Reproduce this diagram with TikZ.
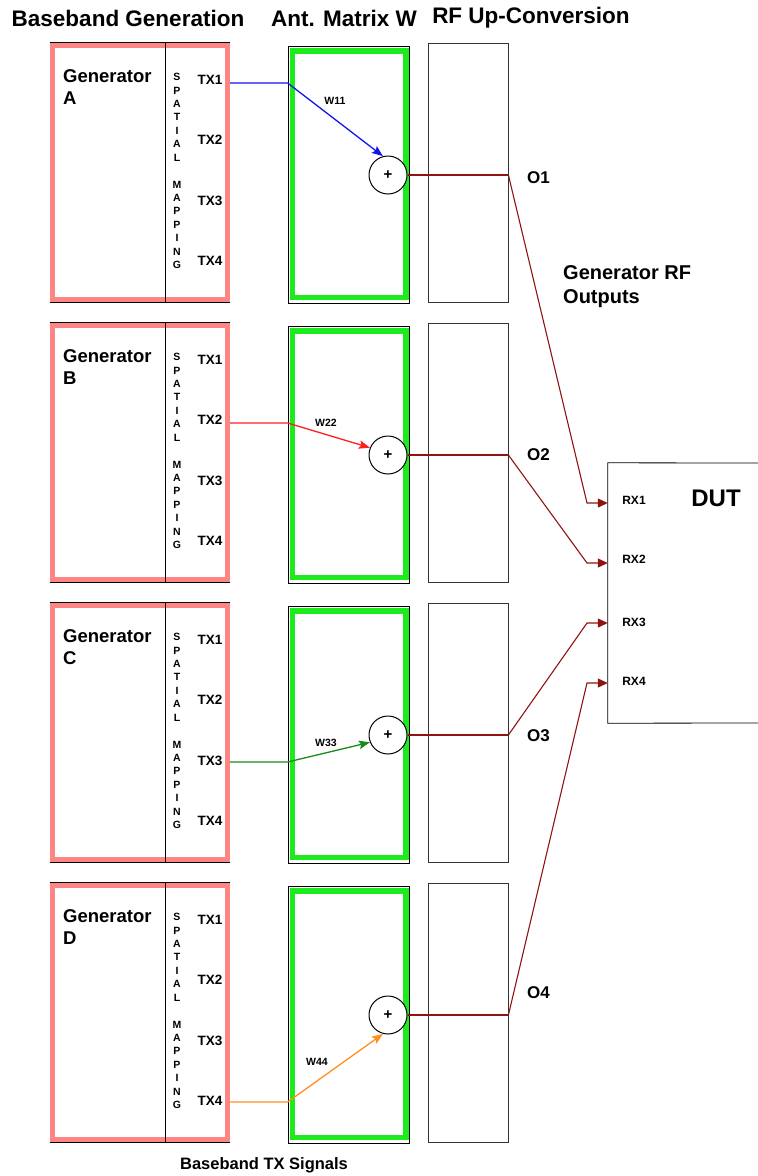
\documentclass[tikz,border=0pt]{standalone}
\usepackage{fontspec}
\setmainfont{Liberation Sans}
\usetikzlibrary{arrows.meta}
\definecolor{pinkred}{HTML}{FF8585}
\definecolor{brightgreen}{HTML}{1EEB1E}
\definecolor{maroonline}{HTML}{8E1414}
\definecolor{wblue}{HTML}{1414F0}
\definecolor{wred}{HTML}{FF2020}
\definecolor{wgreen}{HTML}{1A8A1A}
\definecolor{worange}{HTML}{FF9020}
\begin{document}
\begin{tikzpicture}[x=1pt,y=-1pt,
  hdr/.style={font=\fontsize{22.5}{27}\selectfont\bfseries, inner sep=0},
  gentxt/.style={font=\fontsize{18.5}{22.5}\selectfont\bfseries, align=left, anchor=north west, inner sep=0},
  txlab/.style={font=\fontsize{13.5}{16}\selectfont\bfseries, inner sep=0, anchor=base},
  spat/.style={font=\fontsize{10.5}{13.43}\selectfont\bfseries, align=center, inner sep=0},
  wlab/.style={font=\fontsize{10.5}{12}\selectfont\bfseries, inner sep=0},
  olab/.style={font=\fontsize{17}{20}\selectfont\bfseries, inner sep=0, anchor=west},
  rxlab/.style={font=\fontsize{12}{14}\selectfont\bfseries, inner sep=0},
  sumnode/.style={circle, draw, line width=1pt, minimum size=38pt, inner sep=0, fill=white, font=\fontsize{15}{16}\selectfont\bfseries},
  genbox/.style={minimum width=180pt, minimum height=259pt, inner sep=0},
  matbox/.style={draw, line width=0.8pt, minimum width=121pt, minimum height=257pt, inner sep=0},
  rfbox/.style={draw, line width=0.8pt, draw=black!80, minimum width=80pt, minimum height=259pt, inner sep=0},
  wline/.style={line width=1.3pt, -{Stealth[length=11pt,width=8.5pt,inset=2pt]}},
  rfline/.style={maroonline, line width=1.1pt},
  rxarrow/.style={maroonline, line width=1.1pt, -{Triangle[length=10pt,width=9pt]}}
]
\useasboundingbox (0,0) rectangle (758,1176);

% headers
\node[hdr] (h1) at (128,18) {Baseband Generation};
\node[hdr] (h2) at (344,18) {Ant. Matrix W};
\node[hdr] (h3) at (531,18) {RF Up-Conversion};

\foreach \n/\k in {A/0,B/1,C/2,D/3}{
  \pgfmathsetmacro{\dy}{280*\k}
  % generator block
  \node[genbox] (g\n) at (140,172.5+\dy) {};
  \draw[pinkred, line width=5pt] ([xshift=2.5pt,yshift=-2.5pt]g\n.north west) rectangle ([xshift=-2.5pt,yshift=2.5pt]g\n.south east);
  \draw[line width=0.8pt] (g\n.north west) -- (g\n.north east) (g\n.south west) -- (g\n.south east);
  \draw[line width=0.8pt] ([xshift=116pt]g\n.north west) -- ([xshift=116pt]g\n.south west);
  \node[gentxt] (gt\n) at (63,69+\dy) {Generator\\\n};
  \node[spat] (sp\n) at (177,171+\dy) {S\\P\\A\\T\\I\\A\\L\\\mbox{}\\M\\A\\P\\P\\I\\N\\G};
  \node[txlab] (tx\n1) at (210,84.5+\dy) {TX1};
  \node[txlab] (tx\n2) at (210,144.5+\dy) {TX2};
  \node[txlab] (tx\n3) at (210,205+\dy) {TX3};
  \node[txlab] (tx\n4) at (210,265+\dy) {TX4};
  % antenna matrix
  \node[matbox] (m\n) at (348.5,174.5+\dy) {};
  \draw[brightgreen, line width=5.5pt] ([xshift=5pt,yshift=-5.5pt]m\n.north west) rectangle ([xshift=-3.5pt,yshift=6pt]m\n.south east);
  \node[sumnode] (p\n) at (388,175+\dy) {+};
  % RF box
  \node[rfbox] (rf\n) at (468,172.5+\dy) {};
  \coordinate (o\n) at (rf\n.east |- p\n.east);
  \draw[rfline] (p\n.east) -- (o\n);
}
\node[olab] (O1) at (527,178) {O1};
\node[olab] (O2) at (527,455) {O2};
\node[olab] (O3) at (527,736) {O3};
\node[olab] (O4) at (527,993) {O4};

% weighted lines
\coordinate (sA) at (230,83);
\coordinate (sB) at (230,423);
\coordinate (sC) at (230,762);
\coordinate (sD) at (230,1102);
\draw[wline, wblue] (sA) -- (mA.west |- sA) -- (pA.105);
\draw[wline, wred] (sB) -- (mB.west |- sB) -- (pB.158);
\draw[wline, wgreen] (sC) -- (mC.west |- sC) -- (pC.202);
\draw[wline, worange] (sD) -- (mD.west |- sD) -- (pD.255);
\node[wlab] (w11) at (335,101) {W11};
\node[wlab] (w22) at (326,423) {W22};
\node[wlab] (w33) at (326,743) {W33};
\node[wlab] (w44) at (317,1062) {W44};

% generator RF outputs label
\node[font=\fontsize{20}{24}\selectfont\bfseries, align=left, anchor=north west, inner sep=0] (gro) at (563,265) {Generator RF\\Outputs};

% DUT
\node[minimum width=160pt, minimum height=260pt, inner sep=0] (dut) at (688,593) {};
\draw[line width=0.8pt] (758,463) -- (dut.north west) -- (dut.south west) -- (758,723);
\node[font=\fontsize{24}{28}\selectfont\bfseries, inner sep=0] (dutt) at (716,498) {DUT};
\node[rxlab] (rx1) at (634,500) {RX1};
\node[rxlab] (rx2) at (634,559) {RX2};
\node[rxlab] (rx3) at (634,622) {RX3};
\node[rxlab] (rx4) at (634,681) {RX4};

\coordinate (k1) at (587,503);
\coordinate (k2) at (587,563);
\coordinate (k3) at (587,623);
\coordinate (k4) at (587,683);
\draw[rxarrow] (oA) -- (k1) -- (dut.west |- k1);
\draw[rxarrow] (oB) -- (k2) -- (dut.west |- k2);
\draw[rxarrow] (oC) -- (k3) -- (dut.west |- k3);
\draw[rxarrow] (oD) -- (k4) -- (dut.west |- k4);

\node[font=\fontsize{16.5}{20}\selectfont\bfseries, inner sep=0] (bb) at (264,1165) {Baseband TX Signals};
\end{tikzpicture}
\end{document}
